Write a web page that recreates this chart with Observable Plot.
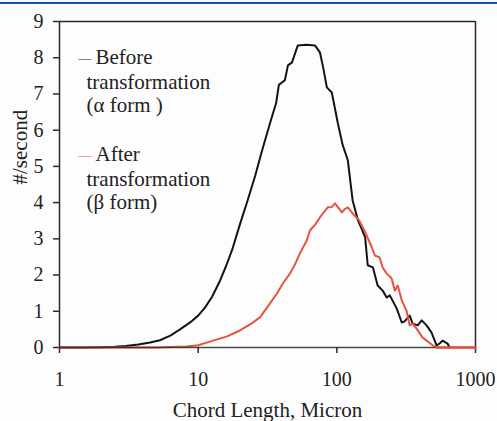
<!DOCTYPE html>
<html>
<head>
<meta charset="utf-8">
<script src="https://cdn.jsdelivr.net/npm/d3@7"></script>
<script src="https://cdn.jsdelivr.net/npm/@observablehq/plot@0.6"></script>
<style>
  html, body { margin: 0; padding: 0; background: #fdfdfd; }
  #wrap { position: relative; width: 497px; height: 421px; overflow: hidden; }
  #bar { position: absolute; left: 0; top: 2px; width: 497px; height: 2px; background: #0f56a3; }
  #wrap svg text { font-family: "Liberation Serif", "Times New Roman", serif; }
</style>
</head>
<body>
<div id="wrap"><div id="bar"></div></div>
<script>
// Chord length (micron) and counts (#/second)
const beforeX = [1, 1.5, 2, 2.5, 3, 3.7, 4.5, 5.3, 6.3, 7.4, 8.8, 10, 11.2, 12.6, 14.4, 15.9, 17.6, 20, 22.9, 25.8, 28.9, 33, 36.5, 38.2, 42.2, 44.4, 47.5, 52.3, 60, 69.5, 75.5, 80, 84.7, 92, 101.7, 110, 120, 130, 142, 150, 160, 167, 182, 197, 214, 229, 241, 270, 294, 308, 335, 352, 383, 409, 444, 482, 524, 551, 579, 629, 650];
const beforeY = [0, 0, 0.01, 0.02, 0.04, 0.08, 0.14, 0.2, 0.33, 0.5, 0.7, 0.88, 1.1, 1.4, 1.85, 2.25, 2.7, 3.4, 4.1, 4.75, 5.44, 6.2, 6.75, 7.25, 7.38, 7.79, 7.87, 8.34, 8.36, 8.34, 8.15, 7.7, 7.18, 7.04, 6.19, 5.6, 5.17, 4.06, 3.51, 3.3, 3.04, 2.27, 2.21, 1.71, 1.57, 1.38, 1.44, 1.08, 0.69, 0.72, 0.88, 0.66, 0.61, 0.75, 0.61, 0.41, 0.06, 0.11, 0.19, 0.11, 0];

const afterX = [1, 3, 5, 8.3, 10, 12.8, 16, 20, 24, 27.9, 32, 37, 41, 45.9, 50, 54.2, 60.8, 64, 70, 75.5, 80, 86, 92, 97, 103, 109, 114, 120, 130, 145, 158, 179, 188, 203, 214, 229, 248, 262, 275, 294, 318, 335, 352, 376, 414, 491, 524, 1000];
const afterY = [0, 0, 0, 0.03, 0.06, 0.19, 0.3, 0.47, 0.65, 0.83, 1.15, 1.49, 1.78, 2.04, 2.3, 2.6, 2.96, 3.23, 3.4, 3.59, 3.72, 3.87, 3.88, 3.98, 3.85, 3.73, 3.82, 3.87, 3.7, 3.51, 3.23, 2.76, 2.54, 2.49, 2.21, 2.04, 1.91, 1.57, 1.71, 1.3, 1.02, 0.61, 0.66, 0.52, 0.28, 0.06, 0, 0];

const xTicks = [1, 10, 100, 1000];
const yTicks = [0, 1, 2, 3, 4, 5, 6, 7, 8, 9];
const xLabel = "Chord Length, Micron";
const yLabel = "#/second";
const beforeLines = ["Before", "transformation", "(α form )"];
const afterLines = ["After", "transformation", "(β form)"];
const seriesColors = {before: "#141414", after: "#e4553f"};

const before = beforeX.map((x, i) => ({x, y: beforeY[i]}));
const after = afterX.map((x, i) => ({x, y: afterY[i]}));

const font = "Liberation Serif";
const axisColor = "#2a2a2a";
const textColor = "#222";

const legendText = (lines, top, color) => [
  Plot.text([lines[0]], {frameAnchor: "top-left", text: d => d, dx: 36, dy: top, textAnchor: "start", lineAnchor: "middle", fill: textColor, fontSize: 21, fontFamily: font}),
  Plot.text(["—"], {frameAnchor: "top-left", text: d => d, dx: 19, dy: top, textAnchor: "start", lineAnchor: "middle", fill: color, fontSize: 13, fontFamily: font}),
  Plot.text([lines[1]], {frameAnchor: "top-left", text: d => d, dx: 27, dy: top + 25, textAnchor: "start", lineAnchor: "middle", fill: textColor, fontSize: 21, fontFamily: font}),
  Plot.text([lines[2]], {frameAnchor: "top-left", text: d => d, dx: 27, dy: top + 48, textAnchor: "start", lineAnchor: "middle", fill: textColor, fontSize: 21, fontFamily: font})
];

const chart = Plot.plot({
  width: 497,
  height: 421,
  marginLeft: 59,
  marginRight: 22,
  marginTop: 21,
  marginBottom: 74,
  style: {fontFamily: font, fontSize: "20px", background: "transparent", color: textColor, overflow: "visible"},
  x: {type: "log", domain: [1, 1000]},
  y: {domain: [0, 9]},
  marks: [
    Plot.axisY({ticks: yTicks, tickSize: 6, tickPadding: 10, label: null, stroke: axisColor, strokeWidth: 1.5, fontSize: 20, fontFamily: font}),
    Plot.axisX({ticks: xTicks, tickSize: 6, tickPadding: 18, tickFormat: d => String(d), label: null, stroke: axisColor, strokeWidth: 1.5, fontSize: 20, fontFamily: font}),
    Plot.ruleY([9], {stroke: axisColor, strokeWidth: 1.5}),
    Plot.ruleX([1000], {stroke: axisColor, strokeWidth: 1.5}),
    Plot.ruleX([1], {stroke: axisColor, strokeWidth: 1.5}),
    Plot.line(before, {x: "x", y: "y", stroke: seriesColors.before, strokeWidth: 2}),
    Plot.line(after, {x: "x", y: "y", stroke: seriesColors.after, strokeWidth: 2}),
    Plot.ruleY([0], {stroke: axisColor, strokeWidth: 1.5, strokeOpacity: 0.85}),
    Plot.line(after.filter(d => d.x >= 500), {x: "x", y: "y", stroke: seriesColors.after, strokeWidth: 2}),
    ...legendText(beforeLines, 36, seriesColors.before),
    ...legendText(afterLines, 133, seriesColors.after),
    Plot.text([xLabel], {frameAnchor: "bottom", text: d => d, dy: 63, lineAnchor: "middle", fill: textColor, fontSize: 21, fontFamily: font}),
    Plot.text([yLabel], {frameAnchor: "left", text: d => d, dx: -39, rotate: -90, lineAnchor: "middle", fill: textColor, fontSize: 21, fontFamily: font})
  ]
});
document.getElementById("wrap").appendChild(chart);
</script>
</body>
</html>
